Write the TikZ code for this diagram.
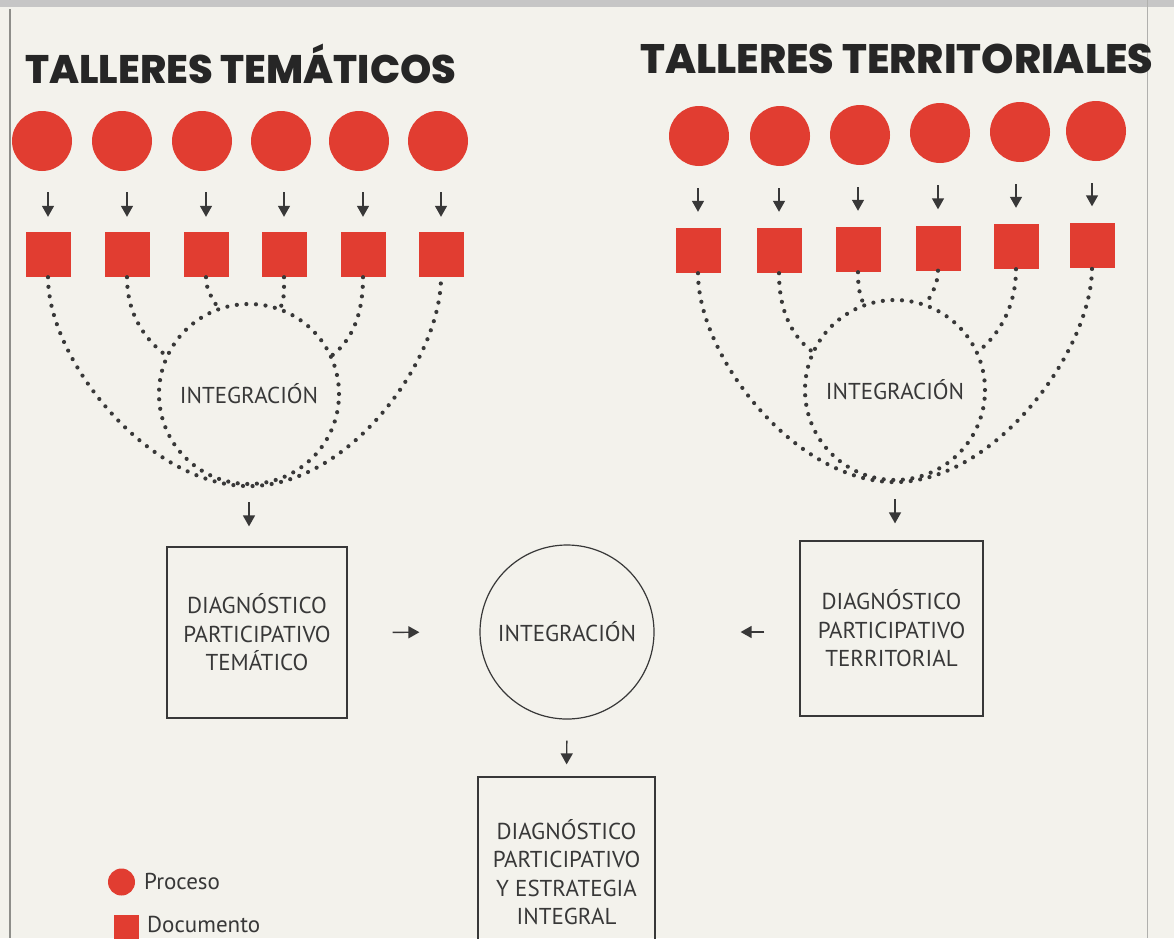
\documentclass[tikz,border=0pt]{standalone}
\usepackage{graphicx}
\usepackage{fontspec}
\setmainfont{PT Sans}
\newfontfamily\titlefont{Poppins}[BoldFont={Poppins ExtraBold}]
\usetikzlibrary{arrows.meta,calc}
\definecolor{pred}{HTML}{E13D31}
\definecolor{ink}{HTML}{383838}
\definecolor{titleink}{HTML}{262626}
\definecolor{paper}{HTML}{F3F2EC}
\definecolor{pageedge}{HTML}{8E8E8A}
\tikzset{
  proc/.style={circle, fill=pred, minimum size=60pt, inner sep=0pt},
  doc/.style={rectangle, fill=pred, minimum size=45pt, inner sep=0pt},
  dotline/.style={ink, line width=4.2pt, line cap=round, dash pattern=on 0pt off 9.6pt},
  arr/.style={ink, line width=1.4pt, -{Triangle[width=12pt,length=11pt]}},
  dotcirc/.style={circle, minimum size=180pt, inner sep=0pt, draw=ink, line width=4.2pt,
    line cap=round, dash pattern=on 0pt off 9.6pt, text=ink, font=\fontsize{23}{26}\selectfont},
  box/.style={rectangle, draw=ink, line width=1.2pt, inner sep=0pt, text=ink,
    font=\fontsize{23}{28.5}\selectfont, align=center},
  legtext/.style={anchor=base west, inner sep=0pt, text=ink, font=\fontsize{23}{26}\selectfont},
  title/.style={anchor=base west, inner sep=0pt, text=titleink}
}
\begin{document}
\begin{tikzpicture}[x=1pt,y=-1pt]
\useasboundingbox (0,0) rectangle (1174,938);
\clip (0,0) rectangle (1174,938);
% page background (photo of a printed page)
\fill[paper] (0,0) rectangle (1174,938);
\fill[gray!45] (0,0) rectangle (1174,7);
\draw[pageedge, line width=1.2pt] (10,9) -- (10,938);
\draw[pageedge!70, line width=1pt] (1147,0) -- (1147,938);

% titles
\node[title] (t1) at (25,83) {\resizebox{431pt}{!}{\titlefont\bfseries TALLERES TEMÁTICOS}};
\node[title] (t2) at (640,73) {\resizebox{513pt}{!}{\titlefont\bfseries TALLERES TERRITORIALES}};

% ---- left group: processes and documents
\foreach \i/\x in {1/42,2/122,3/202,4/281,5/359,6/438}
  \node[proc] (tc\i) at (\x,141) {};
\foreach \i/\x in {1/48,2/127,3/206,4/284,5/363,6/441}
  \node[doc] (ts\i) at (\x,254.5) {};
\foreach \i in {1,...,6}
  \draw[arr, shorten <=21pt, shorten >=15pt] (ts\i.north |- tc\i.south) -- (ts\i.north);

% ---- right group
\foreach \i/\x/\y in {1/699/136,2/780/136,3/860/135,4/940/133,5/1020/132,6/1096/131}
  \node[proc] (rc\i) at (\x,\y) {};
\foreach \i/\x/\y in {1/698/250.5,2/779/250.5,3/858/249.5,4/938/248,5/1016/246.5,6/1092/245}
  \node[doc] (rs\i) at (\x,\y) {};
\foreach \i in {1,...,6}
  \draw[arr, shorten <=22pt, shorten >=16pt] (rs\i.north |- rc\i.south) -- (rs\i.north);

% ---- dotted integrations
\node[dotcirc] (ti) at (249,394) {INTEGRACIÓN};
\node[dotcirc] (ri) at (895,390) {INTEGRACIÓN};

\draw[dotline] (ts3.south) .. controls +(0,14) and +(-4,-8) .. (ti.110);
\draw[dotline] (ts4.south) .. controls +(0,14) and +(4,-8) .. (ti.70);
\draw[dotline] (ts2.south) .. controls +(0,40) and +(-18,-14) .. (ti.155);
\draw[dotline] (ts5.south) .. controls +(0,40) and +(18,-14) .. (ti.25);
\draw[dotline] (ts1.south) .. controls +(0,83) and +(-100,0) .. (ti.south)
               .. controls +(100,0) and +(0,83) .. (ts6.south);

\draw[dotline] (rs3.south) .. controls +(0,14) and +(-4,-8) .. (ri.110);
\draw[dotline] (rs4.south) .. controls +(0,14) and +(4,-8) .. (ri.70);
\draw[dotline] (rs2.south) .. controls +(0,40) and +(-18,-14) .. (ri.155);
\draw[dotline] (rs5.south) .. controls +(0,40) and +(18,-14) .. (ri.25);
\draw[dotline] (rs1.south) .. controls +(0,83) and +(-100,0) .. (ri.south)
               .. controls +(100,0) and +(0,83) .. (rs6.south);

% ---- lower part
\node[box, minimum width=180pt, minimum height=171pt] (dpt) at (257,632.5)
  {DIAGNÓSTICO\\PARTICIPATIVO\\TEMÁTICO};
\node[circle, draw=ink, line width=1.2pt, minimum size=174pt, inner sep=0pt, text=ink,
  font=\fontsize{23}{26}\selectfont] (im) at (567,632) {INTEGRACIÓN};
\node[box, minimum width=183pt, minimum height=175pt] (dpr) at (891.5,628.5)
  {DIAGNÓSTICO\\PARTICIPATIVO\\TERRITORIAL};
\node[box, minimum width=177pt, minimum height=190pt] (dpi) at (566.5,872)
  {DIAGNÓSTICO\\PARTICIPATIVO\\Y ESTRATEGIA\\INTEGRAL};

\draw[arr, shorten <=16pt, shorten >=20pt] (ti.south) -- (ti.south |- dpt.north);
\draw[arr, shorten <=17pt, shorten >=17pt] (ri.south) -- (ri.south |- dpr.north);
\draw[arr, shorten <=45pt, shorten >=60pt] (dpt.east) -- (im.west);
\draw[arr, shorten <=35pt, shorten >=86pt] (dpr.west |- im.east) -- (im.east);
\draw[arr, shorten <=21pt, shorten >=12pt] (im.south) -- (dpi.north);

% ---- legend
\node[proc, minimum size=27pt] (lp) at (121.5,882) {};
\node[legtext] (lpt) at (144,889) {Proceso};
\node[doc, minimum size=25pt] (ld) at (126,927) {};
\node[legtext] (ldt) at (147,932) {Documento};
\end{tikzpicture}
\end{document}
